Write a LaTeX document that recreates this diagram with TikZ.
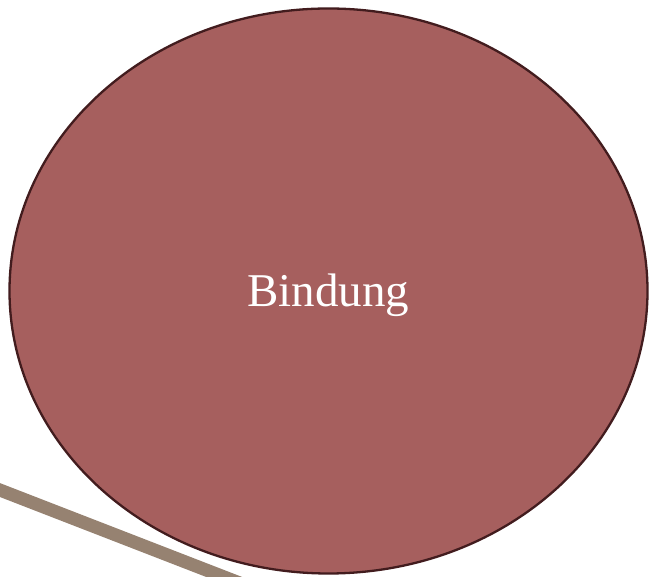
\documentclass[tikz,border=0pt]{standalone}
\usepackage{fontspec}
\setmainfont{Liberation Serif}
\usetikzlibrary{shapes.geometric}
\definecolor{ellfill}{HTML}{A65F5E}
\definecolor{elldraw}{HTML}{421C1E}
\definecolor{linecol}{HTML}{968271}
\begin{document}
\begin{tikzpicture}[x=1pt,y=1pt,
  bigell/.style={ellipse, draw=elldraw, line width=2.3pt, fill=ellfill,
    minimum width=638pt, minimum height=565pt, inner sep=0pt},
  lbl/.style={text=white, font=\fontsize{47}{56}\selectfont}]
\useasboundingbox (0,0) rectangle (651,577);
\coordinate (l1) at (-10,90.8);
\coordinate (l2) at (250,-10);
\draw[linecol, line width=13pt] (l1) -- (l2);
\node[bigell] (e) at (328.5,286) {};
\node[lbl, anchor=base] (t) at (328.5,270) {Bindung};
\end{tikzpicture}
\end{document}
